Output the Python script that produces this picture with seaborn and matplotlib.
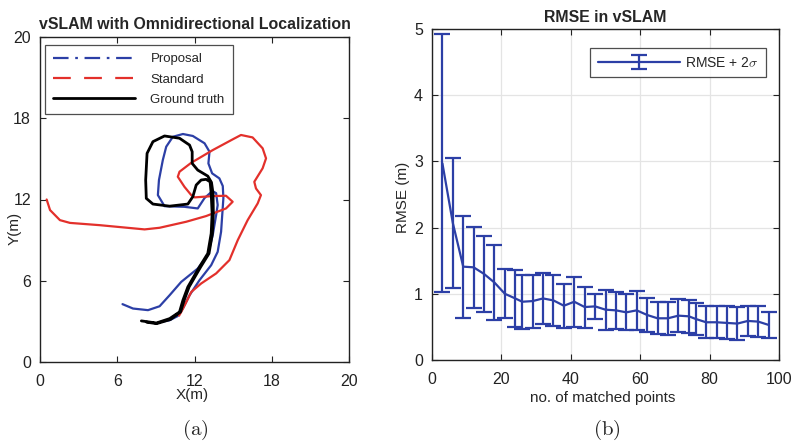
import numpy as np
import pandas as pd
import matplotlib
matplotlib.use("Agg")
import matplotlib.pyplot as plt
import seaborn as sns
from matplotlib.lines import Line2D

# trajectories (axis units, ticks 0/5/10/15/20 are labelled 0/6/12/18/20)
prop_x = [5.34, 6.02, 6.99, 7.74, 8.39, 9.14, 10.21, 10.86, 11.18, 11.40, 11.50, 11.40,
          11.16, 10.65, 10.21, 9.35, 8.06, 7.63, 7.70, 7.95, 8.17, 8.60, 9.25, 9.89,
          10.65, 10.97, 10.90, 11.14, 11.61, 11.83, 11.87, 11.72, 11.50, 11.08, 10.32,
          9.68, 9.25, 8.90, 8.39, 7.74]
prop_y = [3.56, 3.29, 3.19, 3.43, 4.11, 4.93, 5.75, 6.57, 7.81, 9.04, 9.66, 10.39,
          10.52, 10.09, 9.45, 9.55, 9.59, 10.27, 11.20, 12.43, 13.25, 13.86, 14.03, 13.91,
          13.46, 12.94, 12.22, 11.61, 11.30, 10.83, 10.09, 8.01, 6.78, 5.96, 5.03,
          4.11, 3.29, 2.82, 2.57, 2.45]

std_x = [0.43, 0.65, 1.29, 1.94, 3.87, 6.77, 7.74, 9.46, 10.75, 12.04, 12.47, 12.04,
         11.18, 10.00, 9.79, 9.35, 8.92, 9.03, 9.79, 11.18, 12.47, 13.01, 13.76, 14.41,
         14.63, 14.41, 13.87, 13.98, 14.30, 14.09, 13.44, 12.80, 12.26, 11.40, 10.43,
         9.79, 9.42, 9.14, 9.00]
std_y = [10.00, 9.35, 8.73, 8.56, 8.42, 8.16, 8.26, 8.63, 8.98, 9.45, 9.86, 10.23,
         10.21, 10.13, 10.27, 10.78, 11.40, 11.71, 12.26, 13.04, 13.70, 13.97, 13.82, 13.15,
         12.53, 11.92, 11.09, 10.68, 10.27, 9.76, 8.73, 7.50, 6.27, 5.45, 4.83,
         4.31, 3.60, 3.08, 2.85]

gt_x = [6.56, 7.53, 8.39, 9.03, 9.25, 9.57, 10.32, 10.86, 11.08, 11.14, 11.08, 11.01,
        10.75, 10.43, 10.11, 9.89, 9.57, 8.39, 7.31, 6.88, 6.84, 6.93, 7.31, 8.06,
        9.03, 9.68, 9.85, 9.85, 10.21, 10.86, 11.10, 11.20, 11.22, 11.16, 10.94, 10.40,
        9.65, 9.33, 9.10, 8.45, 7.55, 6.90]
gt_y = [2.53, 2.40, 2.67, 3.08, 3.80, 4.62, 5.85, 6.68, 7.91, 9.14, 10.38, 11.09,
        11.24, 11.20, 10.89, 10.17, 9.72, 9.59, 9.72, 10.07, 11.20, 12.84, 13.56, 13.91,
        13.77, 13.35, 12.94, 12.22, 11.81, 11.44, 11.05, 10.38, 9.14, 7.91, 6.68, 5.85,
        4.62, 3.80, 3.08, 2.62, 2.36, 2.45]

# RMSE vs number of matched points
n_points = [3, 6, 9, 12, 15, 18, 21, 24, 26, 29, 32, 35, 38, 41, 44, 47, 50,
            53, 56, 59, 62, 65, 68, 71, 74, 76, 79, 82, 85, 88, 91, 94, 97]
rmse = [2.97, 2.07, 1.41, 1.40, 1.30, 1.17, 1.00, 0.93, 0.88, 0.89, 0.93, 0.90,
        0.82, 0.88, 0.80, 0.81, 0.76, 0.75, 0.72, 0.75, 0.68, 0.63, 0.63, 0.67,
        0.66, 0.62, 0.57, 0.57, 0.56, 0.55, 0.59, 0.58, 0.53]
two_sigma = [1.95, 0.98, 0.77, 0.61, 0.57, 0.57, 0.37, 0.43, 0.41, 0.40, 0.38, 0.38,
             0.33, 0.38, 0.31, 0.19, 0.30, 0.28, 0.27, 0.29, 0.25, 0.24, 0.25, 0.25,
             0.25, 0.24, 0.24, 0.24, 0.25, 0.25, 0.23, 0.23, 0.20]

tick_pos = [0, 5, 10, 15, 20]
tick_lab = ["0", "6", "12", "18", "20"]

sns.set_style("ticks")
plt.rcParams["font.family"] = ["Liberation Sans", "DejaVu Sans"]
plt.rcParams["mathtext.fontset"] = "cm"

blue = "#2c3fa6"
red = "#e3302b"
ink = "#222222"

fig = plt.figure(figsize=(7.91, 4.43), dpi=100)
ax1 = fig.add_axes([40 / 791, 1 - 362 / 443, 309 / 791, 325 / 443])
ax2 = fig.add_axes([432 / 791, 1 - 360 / 443, 347 / 791, 331 / 443])

# ---- (a) trajectories
prop = pd.DataFrame({"x": prop_x, "y": prop_y})
std = pd.DataFrame({"x": std_x, "y": std_y})
gt = pd.DataFrame({"x": gt_x, "y": gt_y})
sns.lineplot(data=prop, x="x", y="y", sort=False, estimator=None, color=blue, lw=1.6, ax=ax1)
sns.lineplot(data=std, x="x", y="y", sort=False, estimator=None, color=red, lw=1.6, ax=ax1)
sns.lineplot(data=gt, x="x", y="y", sort=False, estimator=None, color="black", lw=2.0, ax=ax1)

ax1.set_xlim(0, 20)
ax1.set_ylim(0, 20)
ax1.set_xticks(tick_pos)
ax1.set_xticklabels(tick_lab)
ax1.set_yticks(tick_pos)
ax1.set_yticklabels(tick_lab)
ax1.set_xlabel("X(m)", fontsize=11)
ax1.set_ylabel("Y(m)", fontsize=11)
ax1.xaxis.set_label_coords(0.491, -0.08)
ax1.yaxis.set_label_coords(-0.058, 0.41)
ax1.set_title("vSLAM with Omnidirectional Localization", fontsize=11.4,
              fontweight="bold", pad=6)

handles = [
    Line2D([], [], color=blue, lw=1.6, linestyle=(0, (7, 3, 1.2, 3))),
    Line2D([], [], color=red, lw=1.6, linestyle=(0, (8, 6))),
    Line2D([], [], color="black", lw=2.0),
]
leg1 = ax1.legend(handles, ["Proposal", "Standard", "Ground truth"], loc="upper left",
                  bbox_to_anchor=(0.016, 0.975), borderaxespad=0,
                  fontsize=9.5, handlelength=6.2, frameon=True, fancybox=False,
                  labelspacing=0.62, handletextpad=1.2, borderpad=0.6)
leg1.get_frame().set_edgecolor(ink)
leg1.get_frame().set_linewidth(0.9)

# ---- (b) RMSE
ax2.errorbar(n_points, rmse, yerr=two_sigma, color=blue, lw=1.6, elinewidth=1.6,
             capsize=5.5, capthick=1.6, label=r"RMSE + 2$\sigma$")
ax2.set_xlim(0, 100)
ax2.set_ylim(0, 5)
ax2.set_xticks([0, 20, 40, 60, 80, 100])
ax2.set_yticks([0, 1, 2, 3, 4, 5])
ax2.grid(True, color="#e4e4e4", lw=0.9)
ax2.set_axisbelow(True)
ax2.set_xlabel("no. of matched points", fontsize=11)
ax2.set_ylabel("RMSE (m)", fontsize=11)
ax2.xaxis.set_label_coords(0.493, -0.095)
ax2.yaxis.set_label_coords(-0.063, 0.49)
ax2.set_title("RMSE in vSLAM", fontsize=11.4, fontweight="bold", pad=5)
leg2 = ax2.legend(loc="upper right", bbox_to_anchor=(0.9625, 0.9426), borderaxespad=0,
                  fontsize=10, handlelength=5.9, frameon=True,
                  fancybox=False, handletextpad=0.35, borderpad=0.55)
leg2.get_frame().set_edgecolor(ink)
leg2.get_frame().set_linewidth(0.9)

for ax in (ax1, ax2):
    ax.tick_params(direction="in", top=True, right=True, length=4, width=0.8,
                   labelsize=11.5, colors=ink)
    ax.tick_params(axis="x", pad=8.5)
    ax.tick_params(axis="y", pad=6.5)
    for s in ax.spines.values():
        s.set_visible(True)
        s.set_linewidth(1.0)
        s.set_color(ink)

fig.text(195 / 791, 1 - 430 / 443, r"$\mathrm{(a)}$", fontsize=15, ha="center", va="center")
fig.text(607 / 791, 1 - 430 / 443, r"$\mathrm{(b)}$", fontsize=15, ha="center", va="center")

fig.savefig("out.png", dpi=100)
